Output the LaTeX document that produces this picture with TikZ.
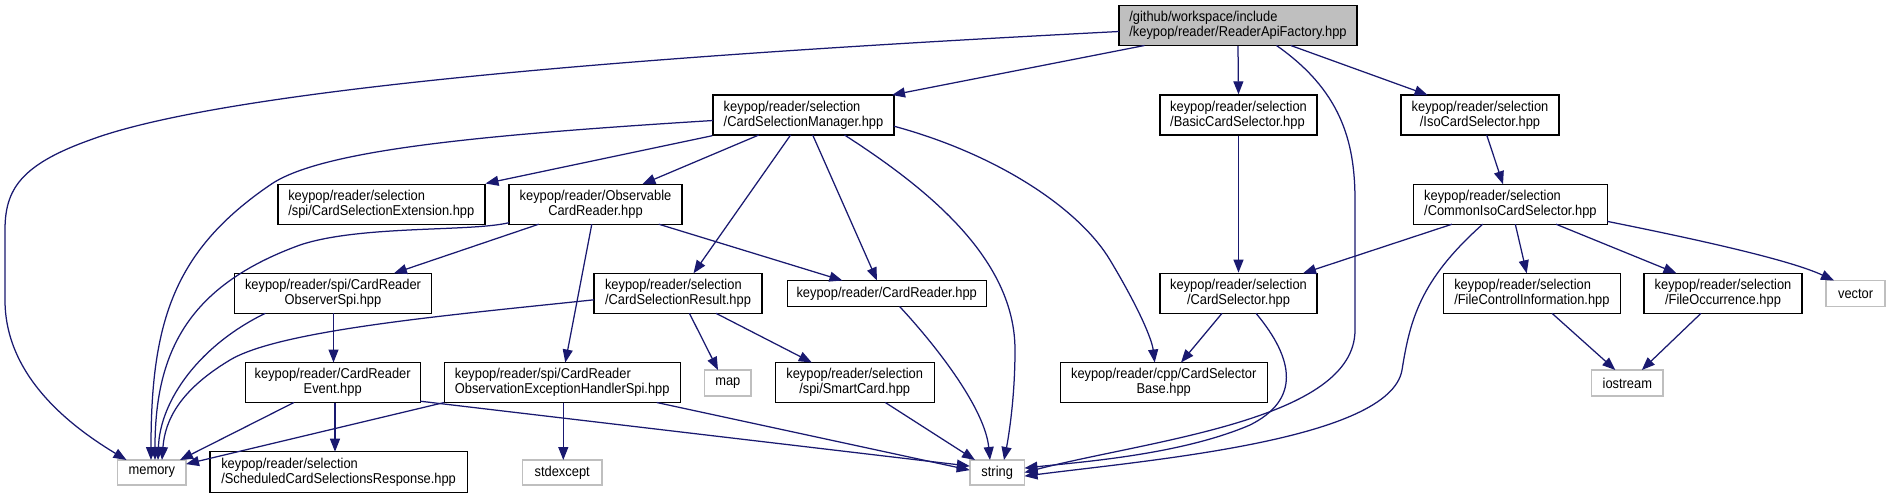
\documentclass[tikz,border=0pt]{standalone}
\usepackage{fontspec}
\setmainfont{Liberation Sans}[FakeStretch=0.9]
\usetikzlibrary{arrows.meta,calc}
\definecolor{edgec}{HTML}{191970}
\definecolor{graybd}{HTML}{BFBFBF}
\tikzset{
  box/.style={draw=black, line width=1.4pt, fill=white, inner sep=0pt, text=black,
    font=\fontsize{14.3}{15}\selectfont},
  ext/.style={box, draw=graybd, minimum height=26pt},
  root/.style={box, fill=graybd},
  dep/.style={draw=edgec, line width=1.25pt, -{Triangle[length=13pt,width=10pt]}},
}
\begin{document}
\begin{tikzpicture}[x=1pt,y=-1pt]
\fill[white] (0,0) rectangle (1893,499);
\useasboundingbox (0,0) rectangle (1893,499);
% nodes
\node[root, minimum width=238pt, minimum height=40pt, align=left] (main) at (1238,25.5) {/github/workspace/include\\/keypop/reader/ReaderApiFactory.hpp};
\node[box, minimum width=181pt, minimum height=40pt, align=left] (csm) at (803.5,115) {keypop/reader/selection\\/CardSelectionManager.hpp};
\node[box, minimum width=157pt, minimum height=40pt, align=left] (basic) at (1238.5,115) {keypop/reader/selection\\/BasicCardSelector.hpp};
\node[box, minimum width=158pt, minimum height=40pt, align=center] (iso) at (1480,115) {keypop/reader/selection\\/IsoCardSelector.hpp};
\node[box, minimum width=207pt, minimum height=40pt, align=left] (cse) at (381.3,204.2) {keypop/reader/selection\\/spi/CardSelectionExtension.hpp};
\node[box, minimum width=173pt, minimum height=40pt, align=center] (obs) at (595.5,204.2) {keypop/reader/Observable\\CardReader.hpp};
\node[box, minimum width=194pt, minimum height=40pt, align=left] (ciso) at (1510.4,204.2) {keypop/reader/selection\\/CommonIsoCardSelector.hpp};
\node[box, minimum width=197pt, minimum height=40pt, align=center] (ospi) at (333,293.3) {keypop/reader/spi/CardReader\\ObserverSpi.hpp};
\node[box, minimum width=168pt, minimum height=40pt, align=left] (csr) at (678,293.3) {keypop/reader/selection\\/CardSelectionResult.hpp};
\node[box, minimum width=199pt, minimum height=26pt] (crd) at (886.7,293.5) {keypop/reader/CardReader.hpp};
\node[box, minimum width=157pt, minimum height=40pt, align=center] (csel) at (1238.5,293.3) {keypop/reader/selection\\/CardSelector.hpp};
\node[box, minimum width=177pt, minimum height=40pt, align=left] (fci) at (1531.9,293.3) {keypop/reader/selection\\/FileControlInformation.hpp};
\node[box, minimum width=158pt, minimum height=40pt, align=center] (focc) at (1723,293.3) {keypop/reader/selection\\/FileOccurrence.hpp};
\node[ext, minimum width=59pt] (vector) at (1855.6,293.5) {vector};
\node[box, minimum width=175pt, minimum height=40pt, align=center] (event) at (332.7,382.5) {keypop/reader/CardReader\\Event.hpp};
\node[box, minimum width=236pt, minimum height=40pt, align=left] (oex) at (562.2,382.5) {keypop/reader/spi/CardReader\\ObservationExceptionHandlerSpi.hpp};
\node[ext, minimum width=46.5pt] (map) at (727.8,383) {map};
\node[box, minimum width=159pt, minimum height=40pt, align=center] (smart) at (854.7,382.5) {keypop/reader/selection\\/spi/SmartCard.hpp};
\node[box, minimum width=207pt, minimum height=40pt, align=center] (csb) at (1163.7,382.5) {keypop/reader/cpp/CardSelector\\Base.hpp};
\node[ext, minimum width=71.4pt] (ios) at (1627.3,383) {iostream};
\node[ext, minimum width=68.5pt, minimum height=25pt] (memory) at (151.9,472.5) {memory};
\node[box, minimum width=257.5pt, minimum height=41pt, align=left] (sched) at (338.6,472.2) {keypop/reader/selection\\/ScheduledCardSelectionsResponse.hpp};
\node[ext, minimum width=79.6pt, minimum height=25pt] (stdex) at (562.2,472.5) {stdexcept};
\node[ext, minimum width=54.7pt, minimum height=25pt] (string) at (997.2,472.5) {string};
% edges from main
\draw[dep] ($(main)+(-119,6)$) .. controls (800,48) and (250,80) .. (90,140) .. controls (20,165) and (5,190) .. (5,230) -- (5,300) .. controls (5,370) and (60,420) .. ($(memory)+(-25.4,-12.5)$);
\draw[dep] ($(main)+(-93.5,20)$) -- ($(csm)+(88.5,-20)$);
\draw[dep] (main.south) -- (basic.north);
\draw[dep] ($(main)+(38.5,20)$) .. controls (1340,90) and (1355,140) .. (1355,200) -- (1355,330) .. controls (1355,420) and (1150,440) .. ($(string)+(27.3,0)$);
\draw[dep] ($(main)+(52.8,20)$) -- ($(iso)+(-52.4,-20)$);
% edges from csm
\draw[dep] ($(csm)+(-90.5,5.5)$) .. controls (480,135) and (320,150) .. (270,185) .. controls (175,250) and (151,320) .. ($(memory)+(-0.9,-12.5)$);
\draw[dep] (csm.south west) -- (cse.north east);
\draw[dep] ($(csm)+(-44.7,20)$) -- ($(obs)+(46.9,-20)$);
\draw[dep] ($(csm)+(-12.9,20)$) -- ($(csr)+(15.5,-20)$);
\draw[dep] ($(csm)+(9.2,20)$) -- ($(crd)+(-9.7,-13)$);
\draw[dep] ($(csm)+(41,20)$) .. controls (930,190) and (1015,260) .. (1015,350) .. controls (1015,400) and (1008,440) .. ($(string)+(6.8,-12.5)$);
\draw[dep] ($(csm)+(90.5,11.2)$) .. controls (1000,155) and (1080,210) .. (1110,260) .. controls (1140,310) and (1152,340) .. ($(csb)+(-9,-20)$);
% basic, iso
\draw[dep] (basic.south) -- (csel.north);
\draw[dep] ($(iso)+(6.7,20)$) -- ($(ciso)+(-7.4,-20)$);
% ciso
\draw[dep] ($(ciso)+(-58.4,20)$) -- ($(csel)+(64.5,-20)$);
\draw[dep] ($(ciso)+(-27.7,20)$) .. controls (1420,280) and (1410,320) .. (1402,370) .. controls (1390,440) and (1150,460) .. ($(string)+(27.3,3.6)$);
\draw[dep] ($(ciso)+(4.9,20)$) -- ($(fci)+(-5.2,-20)$);
\draw[dep] ($(ciso)+(45.6,20)$) -- ($(focc)+(-46.5,-20)$);
\draw[dep] ($(ciso)+(97,17.2)$) .. controls (1700,240) and (1790,260) .. ($(vector)+(-21.6,-13)$);
% obs
\draw[dep] ($(obs)+(-86.5,18.5)$) .. controls (470,232) and (360,225) .. (300,245) .. controls (190,285) and (155,350) .. ($(memory)+(3.1,-12.5)$);
\draw[dep] ($(obs)+(-56.7,20)$) -- ($(ospi)+(60.9,-20)$);
\draw[dep] ($(obs)+(-3.7,20)$) -- ($(oex)+(3.1,-20)$);
\draw[dep] ($(obs)+(63.3,20)$) -- ($(crd)+(-44.3,-13)$);
% ospi
\draw[dep] ($(ospi)+(-67.7,20)$) .. controls (200,345) and (160,400) .. ($(memory)+(6.1,-12.5)$);
\draw[dep] ($(ospi)+(0.5,20)$) -- ($(event)+(0.8,-20)$);
% csr
\draw[dep] ($(csr)+(-84,6.5)$) .. controls (450,315) and (280,330) .. (230,360) .. controls (180,390) and (165,420) .. ($(memory)+(10.1,-12.5)$);
\draw[dep] ($(csr)+(11.4,20)$) -- ($(map)+(-9.8,-13)$);
\draw[dep] ($(csr)+(38,20)$) -- ($(smart)+(-42.9,-20)$);
% crd
\draw[dep] ($(crd)+(12.9,13)$) .. controls (940,350) and (985,410) .. ($(string)+(-7.2,-12.5)$);
% csel
\draw[dep] ($(csel)+(-16.5,20)$) -- ($(csb)+(17.3,-20)$);
\draw[dep] ($(csel)+(17.5,20)$) .. controls (1295,360) and (1300,400) .. (1250,425) .. controls (1180,455) and (1080,462) .. ($(string)+(27.3,-4.4)$);
% event
\draw[dep] ($(event)+(-38.8,20)$) -- ($(memory)+(28.1,-12.5)$);
\draw[dep] ($(event)+(2.3,20)$) -- ($(sched)+(-3.6,-20.5)$);
\draw[dep] ($(event)+(87.5,18.7)$) -- ($(string)+(-27.4,-6.4)$);
% oex
\draw[dep] ($(oex)+(-118,20)$) -- ($(memory)+(34.1,-8.4)$);
\draw[dep] ($(oex)+(1.1,20)$) -- ($(stdex)+(1.1,-12.5)$);
\draw[dep] ($(oex)+(94.5,20)$) -- ($(string)+(-27.4,-2.4)$);
% smart
\draw[dep] ($(smart)+(30.6,20)$) -- ($(string)+(-22.2,-12.5)$);
% file*
\draw[dep] ($(fci)+(20.1,20)$) -- ($(ios)+(-12,-13)$);
\draw[dep] ($(focc)+(-22,20)$) -- ($(ios)+(14.5,-13)$);
\end{tikzpicture}
\end{document}
